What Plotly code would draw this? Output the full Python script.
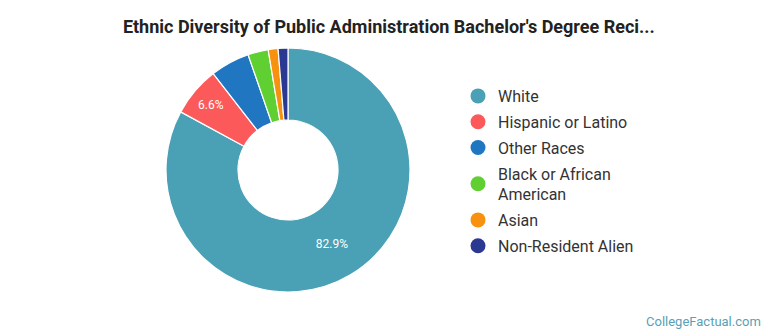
import plotly.graph_objects as go

# Share of bachelor's degree recipients by ethnicity (%)
groups = ["White", "Hispanic or Latino", "Other Races", "Black or African American",
          "Asian", "Non-Resident Alien"]
legend_names = ["White", "Hispanic or Latino", "Other Races", "Black or African<br>American",
                "Asian", "Non-Resident Alien"]
shares = [82.9, 6.6, 5.2, 2.7, 1.3, 1.3]
colors = ["#4aa0b5", "#fc5a5a", "#2176c2", "#5fcf31", "#f8920e", "#2b3990"]

# only the larger slices carry a label
slice_text = [f"{v}%" if v >= 6 else "" for v in shares]

W, H = 770, 335
cx, cy, r = 288, 170, 122

fig = go.Figure()
fig.add_trace(go.Pie(
    labels=groups,
    values=shares,
    text=slice_text,
    textinfo="text",
    textposition="inside",
    insidetextorientation="horizontal",
    textfont=dict(family="Roboto", size=12, color="white"),
    marker=dict(colors=colors, line=dict(color="white", width=1.2)),
    hole=0.41,
    sort=False,
    direction="clockwise",
    rotation=0,
    showlegend=False,
    hoverinfo="label+percent",
    domain=dict(x=[(cx - r) / W, (cx + r) / W], y=[(H - cy - r) / H, (H - cy + r) / H]),
))

# legend entries with round swatches, one group each for even spacing
for i, (name, col) in enumerate(zip(legend_names, colors)):
    fig.add_trace(go.Scatter(
        x=[None], y=[None], mode="markers", name=name,
        marker=dict(symbol="circle", size=15, color=col),
        legendgroup=f"g{i}",
        showlegend=True,
    ))

fig.update_layout(
    width=W, height=H,
    margin=dict(l=0, r=0, t=0, b=0),
    paper_bgcolor="white",
    plot_bgcolor="white",
    xaxis=dict(visible=False),
    yaxis=dict(visible=False),
    title=dict(
        text="<b>Ethnic Diversity of Public Administration Bachelor's Degree Reci...</b>",
        x=0.505, xanchor="center", y=1 - 27 / H, yanchor="middle",
        font=dict(family="Roboto", size=18, color="#222222"),
    ),
    legend=dict(
        x=458 / W, xanchor="left", y=1 - 79 / H, yanchor="top",
        font=dict(family="Roboto", size=16, color="#333333"),
        itemsizing="trace",
        bgcolor="rgba(0,0,0,0)",
        tracegroupgap=2,
    ),
    annotations=[dict(
        text="CollegeFactual.com", x=763 / W, y=1 - 321 / H, xref="paper", yref="paper",
        xanchor="right", yanchor="middle", showarrow=False,
        font=dict(family="Roboto", size=13, color="#5a9fb5"),
    )],
)

fig.write_html("out.html")
